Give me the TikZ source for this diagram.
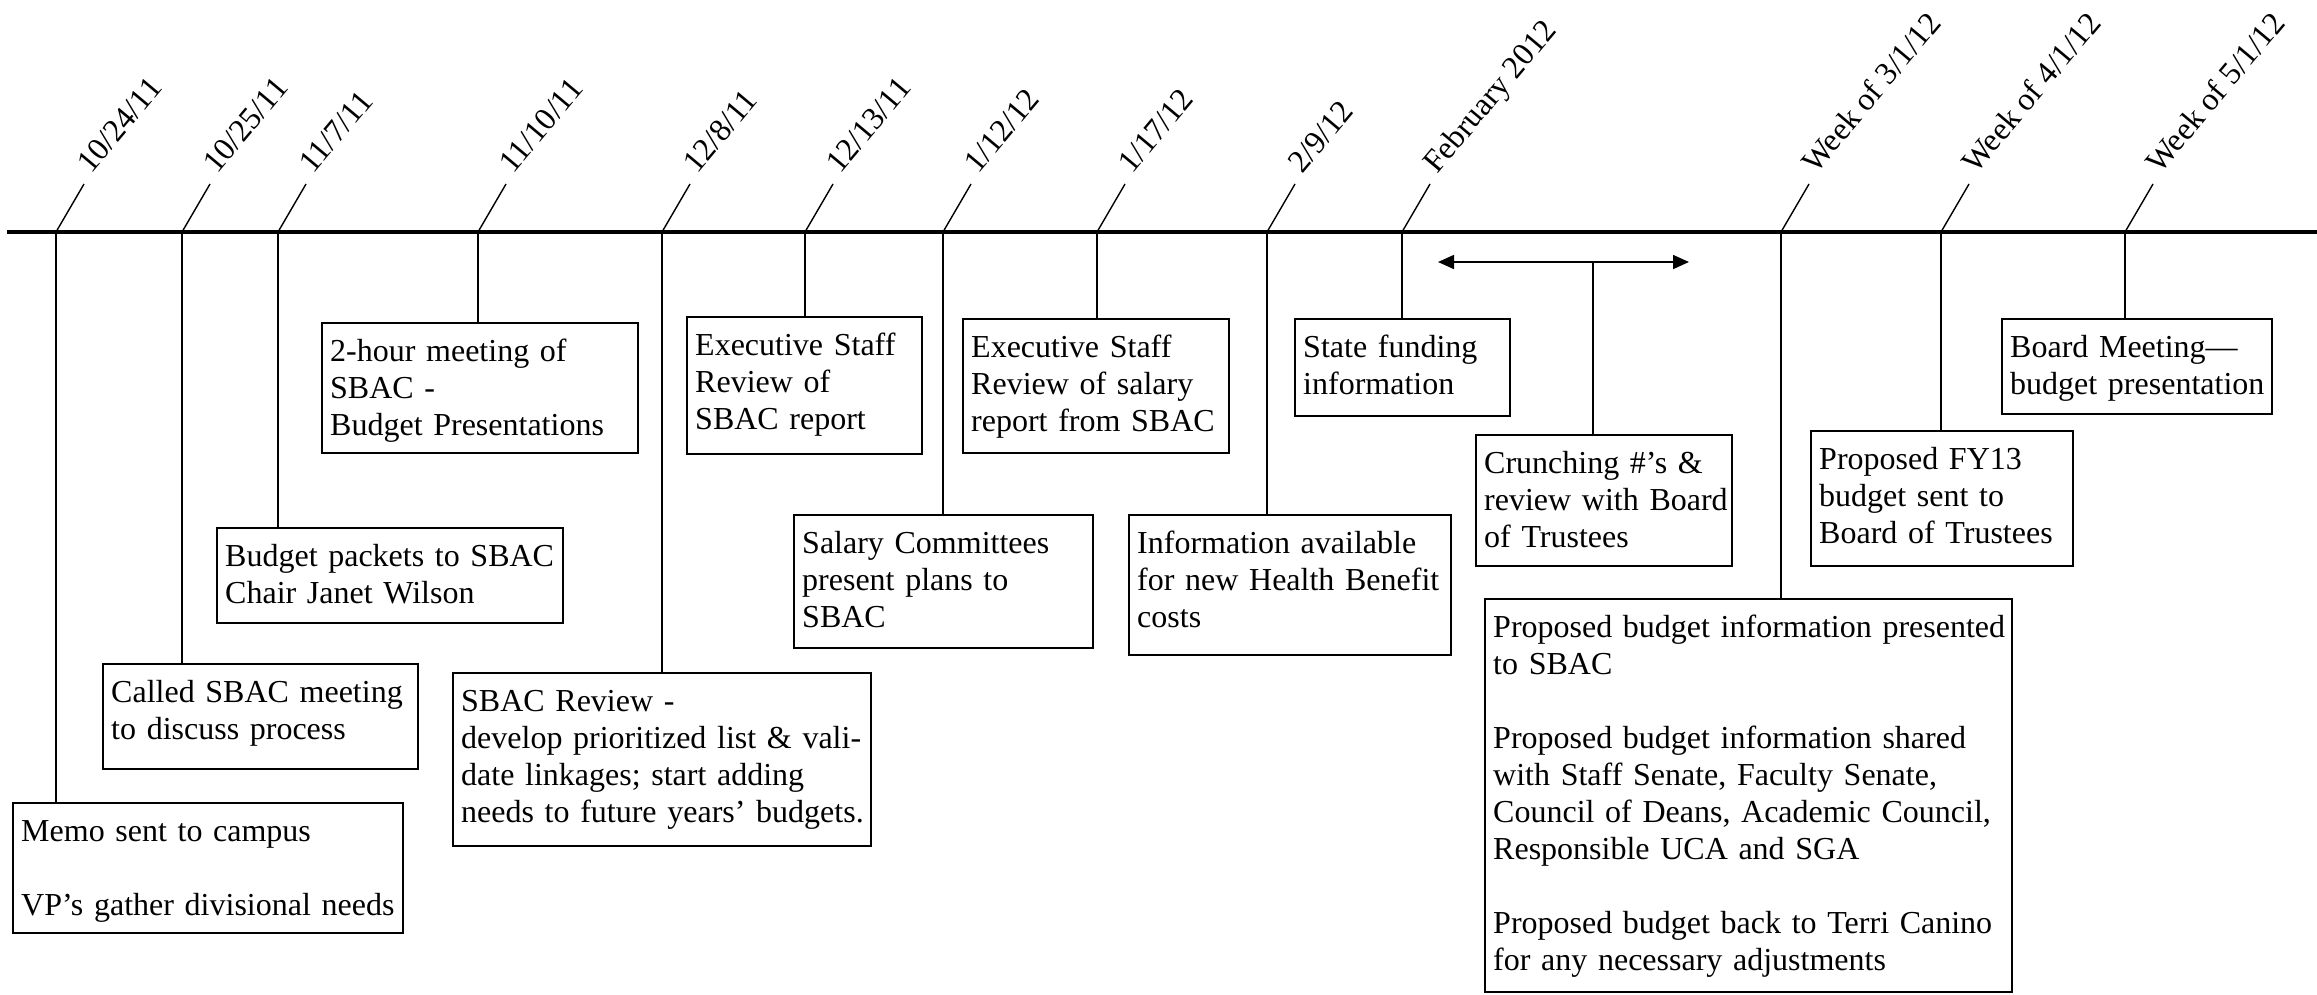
\documentclass[tikz,border=0pt]{standalone}
\usepackage{fontspec}
\setmainfont{Liberation Serif}
\usetikzlibrary{arrows.meta}

\newcommand{\tlfont}{\fontsize{32}{37}\selectfont}

\tikzset{
  evbox/.style={draw, line width=2pt, anchor=north west, inner sep=0pt},
  evtext/.style={anchor=base west, align=left, text width=560pt, inner sep=0pt, font=\tlfont},
  datelbl/.style={rotate=50, anchor=base west, inner sep=0pt, font=\tlfont},
  stem/.style={line width=1.4pt},
}

\begin{document}
\begin{tikzpicture}[x=1pt, y=-1pt]
    \useasboundingbox (0,0) rectangle (2317,994);

    % Time line
    \draw[line width=3.6pt] (7,232) coordinate (tl-start) -- (2317,232) coordinate (tl-end);

    % Dates: slanted ticks with rotated labels
    \foreach \n/\x/\d in {1/56/{10/24/11}, 2/182/{10/25/11}, 3/278/{11/7/11},
                          4/478/{11/10/11}, 5/662/{12/8/11}, 6/805/{12/13/11},
                          7/943/{1/12/12}, 8/1097/{1/17/12}, 9/1267/{2/9/12},
                          10/1402/{February 2012}, 11/1781/{Week of 3/1/12},
                          12/1941/{Week of 4/1/12}, 13/2125/{Week of 5/1/12}} {
        \coordinate (t\n) at (\x,232);
        \coordinate (k\n) at ([shift={(28,-48)}]t\n);
        \draw[stem] (t\n) -- (k\n);
        \node[datelbl] (d\n) at ([shift={(35,-57)}]t\n) {\d};
    }

    % Event boxes
    \node[evbox, minimum width=390, minimum height=130] (memo) at (12,802) {};
    \node[evtext] at ([shift={(9,39)}]memo.north west)
        {Memo sent to campus\\[37pt]VP's gather divisional needs};

    \node[evbox, minimum width=315, minimum height=105] (called) at (102,663) {};
    \node[evtext] at ([shift={(9,39)}]called.north west)
        {Called SBAC meeting\\to discuss process};

    \node[evbox, minimum width=346, minimum height=95] (packets) at (216,527) {};
    \node[evtext] at ([shift={(9,39)}]packets.north west)
        {Budget packets to SBAC\\Chair Janet Wilson};

    \node[evbox, minimum width=316, minimum height=130] (twohour) at (321,322) {};
    \node[evtext] at ([shift={(9,39)}]twohour.north west)
        {2-hour meeting of\\SBAC -\\Budget Presentations};

    \node[evbox, minimum width=418, minimum height=173] (review) at (452,672) {};
    \node[evtext] at ([shift={(9,39)}]review.north west)
        {SBAC Review -\\develop prioritized list \& vali-\\date linkages; start adding\\needs to future years' budgets.};

    \node[evbox, minimum width=235, minimum height=137] (execrep) at (686,316) {};
    \node[evtext] at ([shift={(9,39)}]execrep.north west)
        {Executive Staff\\Review of\\SBAC report};

    \node[evbox, minimum width=299, minimum height=133] (salcomm) at (793,514) {};
    \node[evtext] at ([shift={(9,39)}]salcomm.north west)
        {Salary Committees\\present plans to\\SBAC};

    \node[evbox, minimum width=266, minimum height=134] (execsal) at (962,318) {};
    \node[evtext] at ([shift={(9,39)}]execsal.north west)
        {Executive Staff\\Review of salary\\report from SBAC};

    \node[evbox, minimum width=322, minimum height=140] (info) at (1128,514) {};
    \node[evtext] at ([shift={(9,39)}]info.north west)
        {Information available\\for new Health Benefit\\costs};

    \node[evbox, minimum width=215, minimum height=97] (state) at (1294,318) {};
    \node[evtext] at ([shift={(9,39)}]state.north west)
        {State funding\\information};

    \node[evbox, minimum width=256, minimum height=131] (crunch) at (1475,434) {};
    \node[evtext] at ([shift={(9,39)}]crunch.north west)
        {Crunching \#'s \&\\review with Board\\of Trustees};

    \node[evbox, minimum width=527, minimum height=393] (bigbox) at (1484,598) {};
    \node[evtext] at ([shift={(9,39)}]bigbox.north west)
        {Proposed budget information presented\\to SBAC\\[37pt]
         Proposed budget information shared\\with Staff Senate, Faculty Senate,\\
         Council of Deans, Academic Council,\\Responsible UCA and SGA\\[37pt]
         Proposed budget back to Terri Canino\\for any necessary adjustments};

    \node[evbox, minimum width=262, minimum height=135] (fyplan) at (1810,430) {};
    \node[evtext] at ([shift={(9,39)}]fyplan.north west)
        {Proposed FY13\\budget sent to\\Board of Trustees};

    \node[evbox, minimum width=270, minimum height=95] (board) at (2001,318) {};
    \node[evtext] at ([shift={(9,39)}]board.north west)
        {Board Meeting---\\budget presentation};

    % Stems from the dates down to the boxes
    \foreach \n/\b in {1/memo, 2/called, 3/packets, 4/twohour, 5/review,
                       6/execrep, 7/salcomm, 8/execsal, 9/info, 10/state,
                       11/bigbox, 12/fyplan, 13/board}
        \draw[stem] (t\n) -- (\b.north -| t\n);

    % Span of the crunching period
    \coordinate (span-l) at (1438,262);
    \coordinate (span-r) at (1689,262);
    \coordinate (span-m) at (1593,262);
    \draw[line width=1.6pt, {Triangle[length=16pt,width=14pt]}-{Triangle[length=16pt,width=14pt]}]
        (span-l) -- (span-r);
    \draw[stem] (span-m) -- (crunch.north -| span-m);
\end{tikzpicture}
\end{document}
